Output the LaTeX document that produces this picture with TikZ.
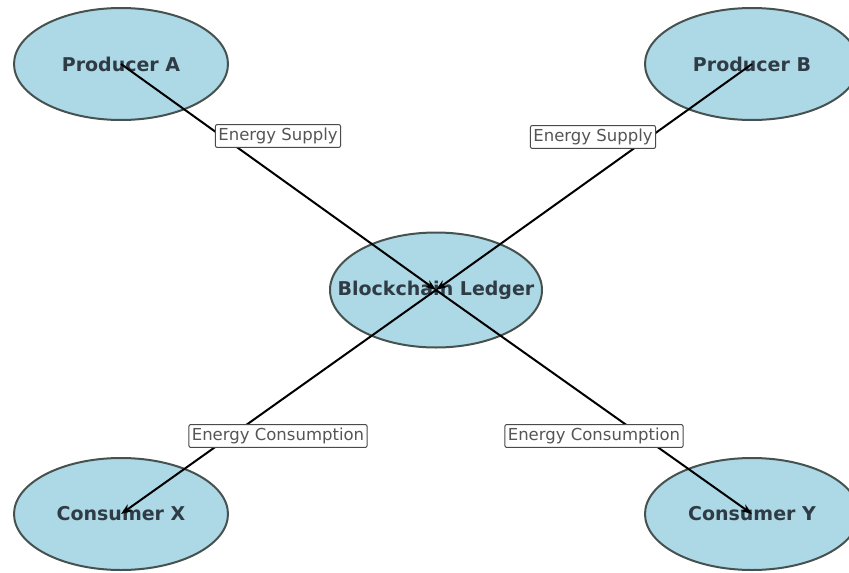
\documentclass[tikz,border=0pt]{standalone}
\usepackage{fontspec}
\setsansfont{DejaVu Sans}
\usetikzlibrary{arrows.meta,shapes}
\tikzstyle{every picture}+=[font=\sffamily]
\definecolor{nodeblue}{HTML}{ADD8E6}
\definecolor{rimgray}{HTML}{46524F}
\definecolor{inkgray}{HTML}{2F3B45}
\definecolor{boxgray}{HTML}{4A4A4A}
\definecolor{labelgray}{HTML}{555555}

\begin{document}
\begin{tikzpicture}[x=1pt,y=-1pt,
    party/.style={ellipse,draw=rimgray,fill=nodeblue,line width=2pt,minimum width=214pt,minimum height=112pt,inner xsep=-26pt,inner ysep=0pt,text=inkgray,font=\sffamily\bfseries\fontsize{19}{21}\selectfont},
    flow/.style={draw=boxgray,fill=white,rounded corners=2pt,line width=1pt,inner xsep=3pt,inner ysep=3.5pt,minimum height=22pt,text=labelgray,font=\sffamily\fontsize{16.5}{18}\selectfont}]
    \useasboundingbox (0,0) rectangle (849,573);
    \node[party] (prodA) at (121,64) {Producer A};
    \node[party] (prodB) at (752,64) {Producer B};
    \node[party,minimum width=212pt,minimum height=115pt] (ledger) at (436,290) {Blockchain Ledger};
    \node[party] (consX) at (121,514) {Consumer X};
    \node[party] (consY) at (752,514) {Consumer Y};
    \path [-{Stealth[length=11pt,width=8pt]},line width=2pt] (prodA.center) edge (ledger.center) (prodB.center) edge (ledger.center) (ledger.center) edge (consX.center) (ledger.center) edge (consY.center);
    \node[flow] (supplyA) at (278,136) {Energy Supply};
    \node[flow] (supplyB) at (593,137) {Energy Supply};
    \node[flow] (useX) at (278,436) {Energy Consumption};
    \node[flow] (useY) at (594,436) {Energy Consumption};
\end{tikzpicture}
\end{document}
